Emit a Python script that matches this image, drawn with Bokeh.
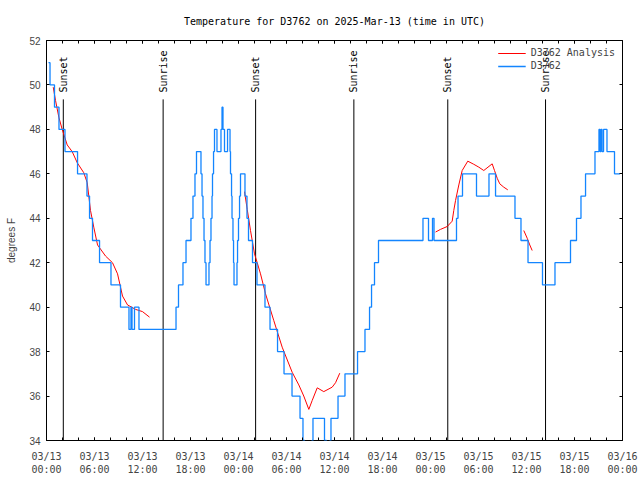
import math
from bokeh.plotting import figure
from bokeh.models import Range1d, FixedTicker, LinearAxis, Legend, LegendItem, CustomJSTickFormatter
from bokeh.core.properties import value
from bokeh.embed import file_html
from bokeh.resources import INLINE

TITLE = "Temperature for D3762 on 2025-Mar-13 (time in UTC)"
Y_LABEL = "degrees F"
SERIES_OBS = "D3762"
SERIES_ANA = "D3762 Analysis"

# x axis: hours since 2025-03-13 00:00 UTC
x_tick_hours = [0, 6, 12, 18, 24, 30, 36, 42, 48, 54, 60, 66, 72]
x_tick_labels = ["03/13\n00:00", "03/13\n06:00", "03/13\n12:00", "03/13\n18:00",
                 "03/14\n00:00", "03/14\n06:00", "03/14\n12:00", "03/14\n18:00",
                 "03/15\n00:00", "03/15\n06:00", "03/15\n12:00", "03/15\n18:00",
                 "03/16\n00:00"]
x_minor_hours = [0, 2, 4, 6, 8, 10, 12, 14, 16, 18, 20, 22, 24, 26, 28, 30, 32, 34, 36,
                 38, 40, 42, 44, 46, 48, 50, 52, 54, 56, 58, 60, 62, 64, 66, 68, 70, 72]
y_ticks = [34, 36, 38, 40, 42, 44, 46, 48, 50, 52]

# observations (step series)
obs_hours = [0.25, 0.44, 1.0, 1.56, 2.31, 3.88, 5.06, 5.38, 5.75, 6.63, 8.06, 9.25,
             10.31, 10.56, 10.69, 11.0, 11.56,
             16.19, 16.5, 17.06, 17.44, 18.06, 18.31, 18.56, 18.75, 19.31, 19.44, 19.56,
             19.69, 19.81, 19.94, 20.31, 20.44, 20.56, 20.69, 20.75, 20.88, 21.0, 21.31,
             21.81, 21.94, 22.06, 22.25, 22.63, 22.94, 23.0, 23.13, 23.19, 23.31, 23.38,
             23.44, 23.81, 23.88, 24.0, 24.13, 24.25, 24.81, 25.06, 25.25, 25.75, 26.31,
             27.31, 27.94, 28.88, 29.69, 30.69, 31.69, 32.06, 32.25, 33.19, 33.31, 34.75,
             35.0, 35.44, 35.56, 36.44, 37.31, 38.88, 39.81, 40.38, 40.63, 41.0, 41.5,
             47.06, 47.75, 48.25, 48.44, 51.25, 51.44, 52.0, 53.75, 55.31, 56.13, 58.56,
             59.31, 60.19, 62.0, 63.56, 65.5, 66.25, 66.81, 67.38, 68.56, 69.06, 69.19,
             69.31, 69.44, 69.63, 70.06, 71.0, 71.69]
obs_temps = [51, 50, 49, 48, 47, 46, 45, 44, 43, 42, 41, 40,
             39, 40, 39, 40, 39,
             40, 41, 42, 43, 44, 45, 46, 47, 46, 45, 44,
             43, 42, 41, 42, 43, 44, 45, 46, 47, 48, 47,
             48, 49, 48, 47, 48, 47, 46, 45, 44, 43, 42,
             41, 42, 43, 44, 45, 46, 45, 44, 43, 42, 41,
             40, 39, 38, 37, 36, 35, 34, 33, 34, 35, 34,
             33, 34, 35, 36, 37, 38, 39, 40, 41, 42, 43,
             44, 43, 44, 43, 44, 45, 46, 45, 46, 45, 44,
             43, 42, 41, 42, 43, 44, 45, 46, 47, 48, 47,
             48, 47, 48, 47, 46, 46]

# analysis (line series, NaN separates pieces)
nan = float("nan")
ana_hours = [0.84, 1.13, 1.54, 1.96, 2.59, 3.21, 3.84, 4.66, 5.09, 5.5, 5.91, 6.38,
             7.38, 8.25, 8.88, 9.5, 10.13, 11.13, 12.0, 12.88,
             nan,
             24.75, 25.09, 25.5, 26.0, 26.34, 26.75, 27.38, 28.41, 29.46, 30.71, 31.54,
             32.16, 32.79, 33.21, 33.84, 34.66, 35.71, 36.13, 36.66,
             nan,
             48.63, 49.25, 50.09, 50.71, 50.91, 51.13, 51.54, 51.96, 52.66, 53.41, 54.04,
             54.66, 55.71, 56.0, 56.34, 56.66, 57.16, 57.66,
             nan,
             59.66, 60.09, 60.41, 60.71]
ana_temps = [49.9, 49.3, 48.55, 48.0, 47.3, 47.0, 46.5, 46.05, 45.6, 44.35, 43.6, 42.8,
             42.3, 42.0, 41.5, 40.5, 40.1, 39.9, 39.8, 39.55,
             nan,
             45.2, 44.4, 43.45, 42.4, 42.0, 41.5, 40.6, 39.4, 38.2, 37.07, 36.5,
             36.0, 35.4, 35.8, 36.37, 36.2, 36.4, 36.6, 37.03,
             nan,
             43.38, 43.5, 43.63, 43.87, 44.35, 44.8, 45.5, 46.15, 46.57, 46.43, 46.3,
             46.15, 46.45, 46.15, 45.8, 45.55, 45.4, 45.28,
             nan,
             43.45, 43.1, 42.8, 42.55]

sunset_hours = [2.10, 26.14, 50.16]
sunrise_hours = [14.58, 38.42, 62.38]
SUN_LINE_TOP = 49.35
SUN_LABEL_Y = 49.66

MONO = "DejaVu Sans Mono"
SANS = "Liberation Sans"

p = figure(width=640, height=480, x_range=Range1d(0, 72), y_range=Range1d(34, 52),
           output_backend="svg", toolbar_location=None,
           min_border_left=46, min_border_right=18, min_border_top=40, min_border_bottom=40)
p.title.text = TITLE
p.title.align = "center"
p.title.text_font = MONO
p.title.text_font_size = "10px"
p.title.text_font_style = "normal"
p.title.text_color = "black"
p.title.standoff = 27

p.outline_line_color = "black"
p.outline_line_width = 1
p.background_fill_color = "white"
p.border_fill_color = "white"
p.xgrid.visible = False
p.ygrid.visible = False

xt = FixedTicker(ticks=x_tick_hours, minor_ticks=x_minor_hours)
yt = FixedTicker(ticks=y_ticks, minor_ticks=[])


def style_axis(ax):
    ax.axis_line_color = None
    ax.major_tick_in = 3
    ax.major_tick_out = 0
    ax.minor_tick_in = 3
    ax.minor_tick_out = 0
    ax.major_tick_line_color = "black"
    ax.minor_tick_line_color = "black"


p.xaxis.ticker = xt
p.xaxis.major_label_overrides = {h: lab for h, lab in zip(x_tick_hours, x_tick_labels)}
p.xaxis.major_label_text_font = MONO
p.xaxis.major_label_text_font_size = "10px"
p.xaxis.major_label_standoff = 10
style_axis(p.xaxis[0])

p.yaxis.ticker = yt
p.yaxis.major_label_text_font = SANS
p.yaxis.major_label_text_font_size = "10px"
p.yaxis.major_label_standoff = 6
p.yaxis.axis_label = Y_LABEL
p.yaxis.axis_label_text_font = SANS
p.yaxis.axis_label_text_font_size = "10px"
p.yaxis.axis_label_text_font_style = "normal"
p.yaxis.axis_label_standoff = 9
style_axis(p.yaxis[0])

blank = CustomJSTickFormatter(code="return '';")
top = LinearAxis(ticker=xt, formatter=blank, major_label_standoff=0)
style_axis(top)
p.add_layout(top, "above")
right = LinearAxis(ticker=yt, formatter=blank, major_label_standoff=0)
style_axis(right)
p.add_layout(right, "right")

# sunrise / sunset markers
for hours, name in ((sunset_hours, "Sunset"), (sunrise_hours, "Sunrise")):
    p.segment(x0=hours, y0=[34] * len(hours), x1=hours, y1=[SUN_LINE_TOP] * len(hours),
              line_color="black", line_width=1)
    p.text(x=hours, y=[SUN_LABEL_Y] * len(hours), text=[name] * len(hours),
           angle=math.pi / 2, text_align="left", text_baseline="middle",
           text_font=value(MONO), text_font_size="10px", text_color="black")

red = p.line(ana_hours, ana_temps, line_color="#ff0000", line_width=1)
blue = p.step(obs_hours, obs_temps, mode="after", line_color="#1385ff", line_width=1.3)

legend = Legend(items=[LegendItem(label=SERIES_ANA, renderers=[red]),
                       LegendItem(label=SERIES_OBS, renderers=[blue])],
                location="top_right")
legend.label_text_font = MONO
legend.label_text_font_size = "10px"
legend.background_fill_alpha = 0
legend.border_line_alpha = 0
legend.glyph_width = 28
legend.glyph_height = 10
legend.label_height = 10
legend.spacing = 2
legend.padding = 3
legend.margin = 4
p.add_layout(legend)

open("out.html", "w").write(file_html(p, INLINE))
